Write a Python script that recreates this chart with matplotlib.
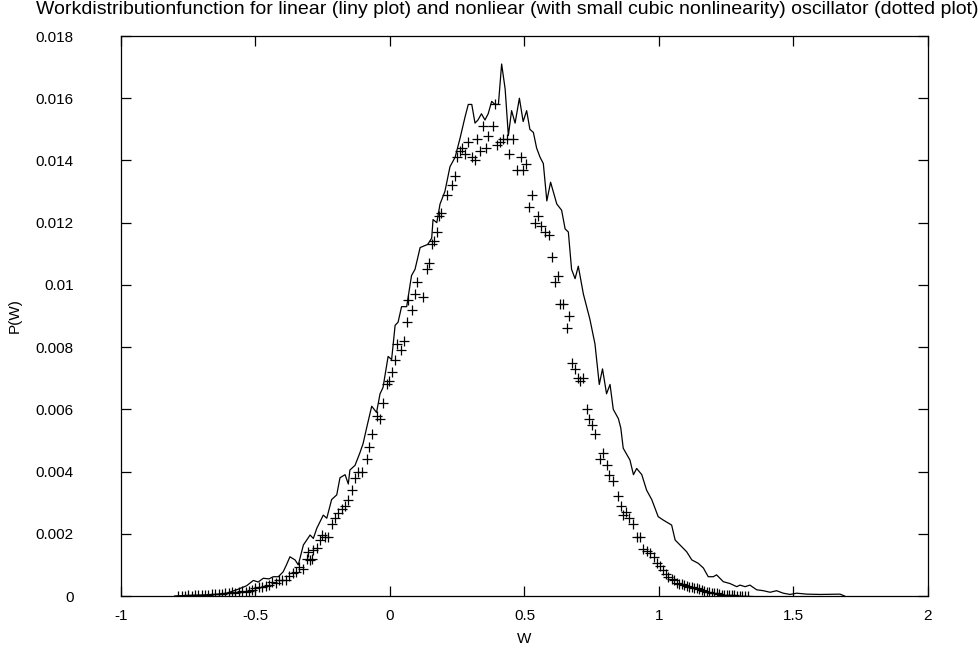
import matplotlib
matplotlib.use('Agg')
import matplotlib.pyplot as plt

plt.rcParams['font.family'] = ['Liberation Sans', 'DejaVu Sans']

# linear oscillator (line)
w_lin = [-0.80, -0.75, -0.70, -0.65, -0.607, -0.57, -0.533, -0.508, -0.49, -0.471,
         -0.45, -0.434, -0.415, -0.397, -0.385, -0.372, -0.353, -0.341, -0.322, -0.297,
         -0.285, -0.272, -0.248, -0.235, -0.217, -0.198, -0.186, -0.167, -0.155, -0.149,
         -0.13, -0.112, -0.10, -0.087, -0.068, -0.05, -0.037, -0.026, -0.007, 0.006,
         0.019, 0.03, 0.043, 0.062, 0.08, 0.093, 0.112, 0.14, 0.155, 0.16,
         0.174, 0.186, 0.204, 0.223, 0.242, 0.26, 0.279, 0.291, 0.304, 0.316,
         0.327, 0.34, 0.353, 0.365, 0.378, 0.39, 0.403, 0.415, 0.428, 0.44,
         0.452, 0.465, 0.481, 0.495, 0.508, 0.52, 0.533, 0.545, 0.558, 0.57,
         0.583, 0.597, 0.62, 0.638, 0.651, 0.663, 0.675, 0.688, 0.70, 0.719,
         0.743, 0.762, 0.778, 0.79, 0.805, 0.818, 0.83, 0.849, 0.858, 0.867,
         0.892, 0.905, 0.917, 0.936, 0.954, 0.973, 0.997, 1.016, 1.047, 1.06,
         1.078, 1.103, 1.122, 1.146, 1.165, 1.183, 1.202, 1.214, 1.239, 1.264,
         1.289, 1.301, 1.32, 1.338, 1.363, 1.388, 1.413, 1.437, 1.462, 1.487,
         1.512, 1.549, 1.60, 1.673, 1.69]
p_lin = [0.0, 0.00002, 0.00003, 0.00005, 0.00009, 0.0002, 0.00033, 0.0005, 0.00045, 0.00057,
         0.00055, 0.00062, 0.00062, 0.00078, 0.001, 0.00126, 0.00116, 0.001, 0.00164, 0.00196,
         0.00185, 0.00218, 0.0026, 0.0025, 0.0031, 0.00325, 0.0038, 0.0039, 0.0036, 0.00405,
         0.0042, 0.0046, 0.0049, 0.0054, 0.0061, 0.0059, 0.0065, 0.0067, 0.0077, 0.0076,
         0.0087, 0.0088, 0.0093, 0.0093, 0.0103, 0.0105, 0.0112, 0.0113, 0.0115, 0.0121,
         0.012, 0.0126, 0.013, 0.0138, 0.0141, 0.0147, 0.0154, 0.0158, 0.0158, 0.0152,
         0.0153, 0.0155, 0.0153, 0.0155, 0.0159, 0.0158, 0.0158, 0.0171, 0.0163, 0.0148,
         0.0156, 0.0152, 0.016, 0.01525, 0.0156, 0.015, 0.0149, 0.0144, 0.0141, 0.0139,
         0.0127, 0.0133, 0.0126, 0.0124, 0.0118, 0.0117, 0.0105, 0.0102, 0.0106, 0.0097,
         0.0089, 0.0081, 0.0068, 0.0073, 0.0065, 0.0068, 0.006, 0.0057, 0.0054, 0.00475,
         0.00437, 0.0039, 0.0041, 0.0039, 0.0034, 0.0031, 0.00255, 0.00244, 0.00228, 0.0018,
         0.00164, 0.00142, 0.00116, 0.00105, 0.0009, 0.00062, 0.00062, 0.00068, 0.00046, 0.0004,
         0.0003, 0.00035, 0.0003, 0.00035, 0.0002, 0.00017, 0.00012, 0.00017, 0.00009, 0.00005,
         0.00009, 0.00006, 0.00005, 0.00006, 0.0]

# nonlinear oscillator (crosses)
w_nl = [-0.787, -0.775, -0.762, -0.75, -0.737, -0.725, -0.712, -0.70, -0.687, -0.675,
        -0.662, -0.65, -0.637, -0.625, -0.612, -0.60, -0.587, -0.575, -0.562, -0.55,
        -0.537, -0.525, -0.512, -0.50, -0.487, -0.475, -0.462, -0.45, -0.437, -0.425,
        -0.412, -0.40, -0.387, -0.375, -0.362, -0.35, -0.337, -0.325, -0.31, -0.304,
        -0.297, -0.291, -0.285, -0.272, -0.26, -0.254, -0.242, -0.229, -0.217, -0.204,
        -0.192, -0.18, -0.167, -0.155, -0.142, -0.13, -0.118, -0.105, -0.087, -0.077,
        -0.068, -0.05, -0.037, -0.025, -0.012, -0.003, 0.006, 0.019, 0.027, 0.04,
        0.052, 0.062, 0.068, 0.08, 0.093, 0.101, 0.121, 0.136, 0.146, 0.155,
        0.164, 0.176, 0.182, 0.19, 0.211, 0.229, 0.242, 0.248, 0.26, 0.266,
        0.279, 0.291, 0.304, 0.316, 0.325, 0.335, 0.347, 0.357, 0.365, 0.382,
        0.39, 0.399, 0.409, 0.421, 0.434, 0.443, 0.458, 0.471, 0.486, 0.495,
        0.506, 0.518, 0.529, 0.539, 0.551, 0.56, 0.576, 0.592, 0.603, 0.613,
        0.626, 0.632, 0.644, 0.657, 0.667, 0.675, 0.688, 0.70, 0.706, 0.719,
        0.731, 0.741, 0.75, 0.762, 0.781, 0.793, 0.806, 0.815, 0.828, 0.849,
        0.857, 0.867, 0.877, 0.89, 0.902, 0.917, 0.929, 0.942, 0.956, 0.966,
        0.981, 0.991, 1.004, 1.016, 1.025, 1.035, 1.047, 1.056, 1.066, 1.075,
        1.084, 1.094, 1.103, 1.112, 1.122, 1.131, 1.14, 1.15, 1.159, 1.168,
        1.177, 1.187, 1.196, 1.205, 1.214, 1.224, 1.233, 1.242, 1.252, 1.261,
        1.27, 1.28, 1.29, 1.30, 1.31, 1.32, 1.332]
p_nl = [0.0, 0.00001, 0.00001, 0.00002, 0.00001, 0.00002, 0.00003, 0.00003, 0.00004, 0.00004,
        0.00006, 0.00005, 0.00007, 0.00008, 0.0001, 0.00009, 0.00012, 0.00011, 0.00014, 0.00015,
        0.00013, 0.00016, 0.00019, 0.00025, 0.0003, 0.00029, 0.00031, 0.00035, 0.00046, 0.00042,
        0.0005, 0.00052, 0.0005, 0.00065, 0.00073, 0.00078, 0.00094, 0.00088, 0.0012, 0.00142,
        0.00116, 0.0012, 0.00148, 0.00153, 0.0018, 0.00196, 0.0019, 0.0019, 0.0023, 0.0025,
        0.00266, 0.0028, 0.0029, 0.0031, 0.0034, 0.0038, 0.004, 0.004, 0.0044, 0.0048,
        0.0052, 0.0058, 0.0057, 0.0062, 0.0068, 0.0069, 0.0072, 0.0076, 0.0081, 0.0079,
        0.0082, 0.0088, 0.0095, 0.0092, 0.0097, 0.0101, 0.0096, 0.0105, 0.0107, 0.0113,
        0.0114, 0.0117, 0.0122, 0.0123, 0.0129, 0.0132, 0.0135, 0.0141, 0.0143, 0.0144,
        0.0142, 0.0146, 0.0141, 0.014, 0.0147, 0.0143, 0.0151, 0.0144, 0.0148, 0.0151,
        0.0158, 0.0145, 0.0146, 0.0147, 0.0147, 0.0142, 0.0147, 0.0137, 0.0141, 0.0137,
        0.0139, 0.0125, 0.0129, 0.012, 0.0122, 0.0119, 0.0117, 0.0116, 0.0109, 0.0101,
        0.0103, 0.0094, 0.0094, 0.0086, 0.009, 0.0075, 0.0073, 0.007, 0.0069, 0.007,
        0.006, 0.0057, 0.0055, 0.0052, 0.0044, 0.0046, 0.0042, 0.0039, 0.0037, 0.0032,
        0.0029, 0.0026, 0.0027, 0.0025, 0.0023, 0.0019, 0.0019, 0.0015, 0.00146, 0.00137,
        0.00126, 0.00107, 0.00096, 0.00084, 0.0007, 0.00062, 0.00055, 0.0005, 0.00043, 0.0004,
        0.00039, 0.00035, 0.00032, 0.0003, 0.00028, 0.00026, 0.00025, 0.00022, 0.0002, 0.00017,
        0.00014, 0.00012, 0.0001, 0.0001, 0.00009, 0.00006, 0.00004, 0.00004, 0.00003, 0.00003,
        0.00002, 0.00002, 0.00001, 0.00001, 0.00001, 0.0, 0.0]

x_ticks = [-1, -0.5, 0, 0.5, 1, 1.5, 2]
x_labels = ['-1', '-0.5', '0', '0.5', '1', '1.5', '2']
y_ticks = [0, 0.002, 0.004, 0.006, 0.008, 0.01, 0.012, 0.014, 0.016, 0.018]
y_labels = ['0', '0.002', '0.004', '0.006', '0.008', '0.01', '0.012', '0.014', '0.016', '0.018']

fig = plt.figure(figsize=(9.79, 6.55), dpi=100)
ax = fig.add_axes([121 / 979, 1 - 596 / 655, (928 - 121) / 979, (596 - 36) / 655])

# line = linear oscillator, crosses = nonlinear one
ax.plot(w_lin, p_lin, color='black', linewidth=0.9)
ax.plot(w_nl, p_nl, linestyle='none', marker='+', markersize=6.5,
        markeredgewidth=0.9, color='black')

ax.set_xlim(-1, 2)
ax.set_ylim(0, 0.018)
ax.set_xticks(x_ticks)
ax.set_xticklabels(x_labels, fontsize=11)
ax.set_yticks(y_ticks)
ax.set_yticklabels(y_labels, fontsize=11)
ax.tick_params(direction='in', length=7, width=0.9, top=True, right=True)
ax.tick_params(axis='x', pad=9)
ax.tick_params(axis='y', pad=34)
for s in ax.spines.values():
    s.set_linewidth(0.9)

ax.set_xlabel('W', fontsize=11, labelpad=7)
ax.set_ylabel('P(W)', fontsize=11, labelpad=10)

fig.text(507 / 979, 1 - 10 / 655,
         'Workdistributionfunction for linear (liny plot) and nonliear '
         '(with small cubic nonlinearity) oscillator (dotted plot)',
         ha='center', va='center', fontsize=14)

fig.savefig('out.png', dpi=100)
